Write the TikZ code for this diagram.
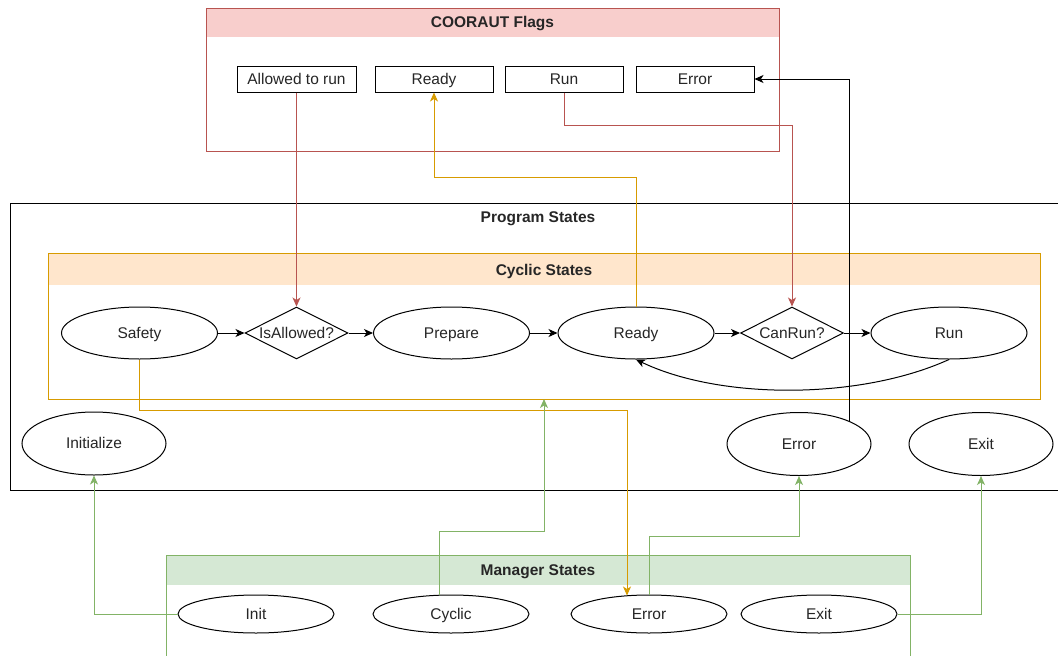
\documentclass[tikz,border=0pt]{standalone}
\usepackage{fontspec}
\setmainfont{Liberation Sans}
\usetikzlibrary{shapes.geometric,arrows.meta,calc}
\definecolor{redS}{HTML}{B85450}
\definecolor{redF}{HTML}{F8CECC}
\definecolor{orS}{HTML}{D79B00}
\definecolor{orF}{HTML}{FFE6CC}
\definecolor{grS}{HTML}{82B366}
\definecolor{grF}{HTML}{D5E8D4}
\begin{document}
\begin{tikzpicture}[x=1pt,y=-1pt,
  every node/.style={font=\fontsize{15.5}{18}\selectfont, text=black!85, text height=11pt, text depth=1pt},
  st/.style={draw=black, fill=white, line width=1pt, ellipse, minimum width=156pt, minimum height=52pt, inner sep=0pt},
  bigst/.style={st, minimum width=144pt, minimum height=63pt},
  mst/.style={st, minimum height=38pt},
  dec/.style={draw=black, fill=white, line width=1pt, diamond, minimum width=103pt, minimum height=52pt, inner sep=0pt},
  flag/.style={draw=black, fill=white, rectangle, minimum width=118pt, minimum height=26pt, inner sep=0pt, line width=1pt},
  cont/.style={rectangle, line width=1pt, inner sep=0pt, outer sep=0pt, anchor=north west},
  ttl/.style={font=\fontsize{15.5}{18}\selectfont\bfseries},
  arr/.style={line width=1pt, -{Stealth[length=9pt,width=8pt,inset=2.5pt]}},
]
\useasboundingbox (0,0) rectangle (1058,656);
\clip (0,0) rectangle (1058,656);

% containers
\fill[redF] (206,8) rectangle (779,37);
\node[cont, draw=redS, minimum width=573pt, minimum height=143pt] (flags) at (206,8) {};
\node[ttl] (flagst) at (492.5,22) {COORAUT Flags};

\node[cont, draw=black, minimum width=1056pt, minimum height=287pt] (prog) at (10,203) {};
\node[ttl] (progt) at (538,217) {Program States};

\fill[orF] (48,253) rectangle (1040,285);
\node[cont, draw=orS, minimum width=992pt, minimum height=146pt] (cyc) at (48,253) {};
\node[ttl] (cyct) at (544,270) {Cyclic States};

\fill[grF] (166,555) rectangle (910,585);
\node[cont, draw=grS, minimum width=744pt, minimum height=160pt] (mgr) at (166,555) {};
\node[ttl] (mgrt) at (538,570) {Manager States};

% flags
\node[flag, minimum width=119pt] (fallow) at (296.5,79) {Allowed to run};
\node[flag] (fready) at (434,79) {Ready};
\node[flag] (frun) at (564,79) {Run};
\node[flag] (ferror) at (695,79) {Error};

% cyclic row
\node[st] (safety) at (139.5,333) {Safety};
\node[dec, label={center:IsAllowed?}] (isallowed) at (296.5,333) {};
\node[st] (prepare) at (451.5,333) {Prepare};
\node[st] (pready) at (636,333) {Ready};
\node[dec, label={center:CanRun?}] (canrun) at (792,333) {};
\node[st] (prun) at (949,333) {Run};

% program states
\node[bigst] (pinit) at (94,443.5) {Initialize};
\node[bigst] (perr) at (799,444) {Error};
\node[bigst] (pexit) at (981,444) {Exit};

% manager states
\node[mst] (minit) at (256,614) {Init};
\node[mst] (mcyc) at (451,614) {Cyclic};
\node[mst] (merr) at (649,614) {Error};
\node[mst] (mexit) at (819,614) {Exit};

% cyclic flow
\draw[arr] (safety) -- (isallowed);
\draw[arr] (isallowed) -- (prepare);
\draw[arr] (prepare) -- (pready);
\draw[arr] (pready) -- (canrun);
\draw[arr] (canrun) -- (prun);
\draw[arr] (prun.south) .. controls (860,400) and (720,400) .. (pready.south);

% flag connectors
\draw[arr, redS] (fallow.south) -- (isallowed.north);
\draw[arr, orS] (pready.north) -- ++(0,-129) -| (fready.south);
\draw[arr, redS] (frun.south) -- ++(0,33) -| (canrun.north);
\draw[arr, black] ($(perr.center)+(50,-23)$) |- (ferror.east);

% safety to manager error
\draw[arr, orS] (safety.south) -- ++(0,51) -| ($(merr.north)+(-22,1)$);

% manager connectors
\draw[arr, grS] (minit.west) -| (pinit.south);
\draw[arr, grS] ($(mcyc.north)+(-12,0)$) -- ++(0,-63) -| (cyc.south);
\draw[arr, grS] (merr.north) -- ++(0,-58) -| (perr.south);
\draw[arr, grS] (mexit.east) -| (pexit.south);
\end{tikzpicture}
\end{document}
